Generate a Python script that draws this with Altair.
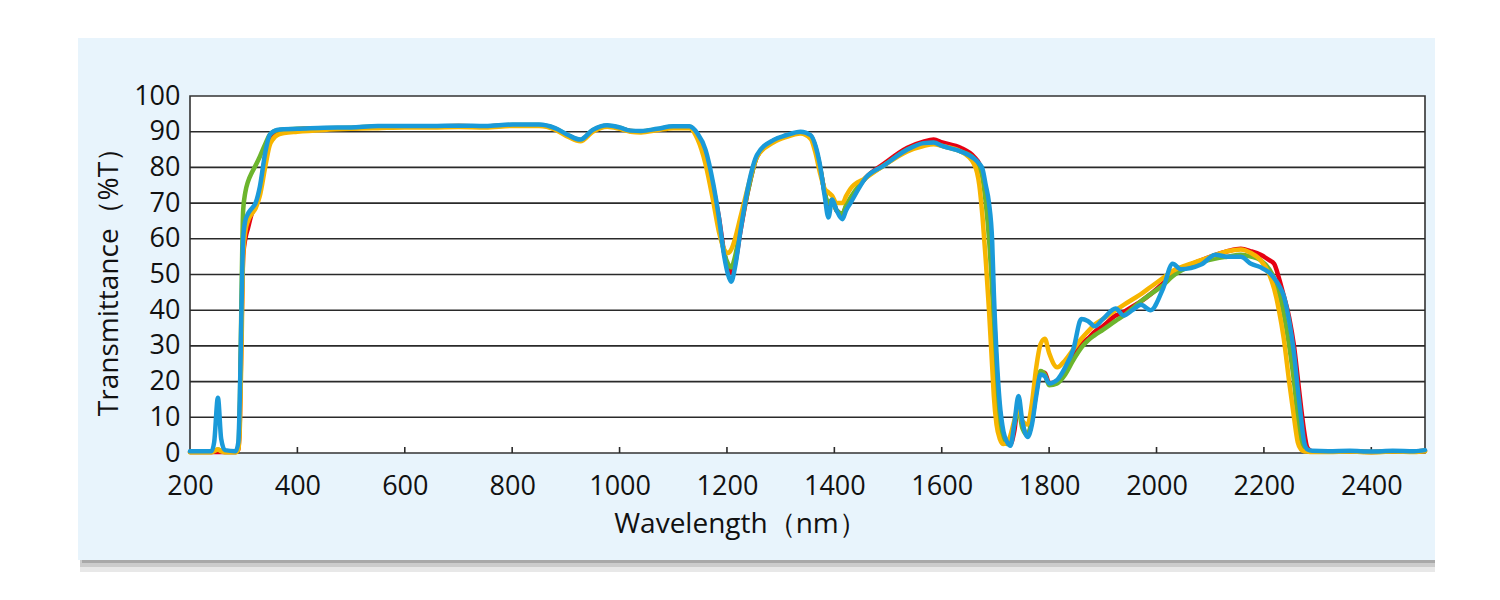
import altair as alt
import pandas as pd

# ---------------- data ----------------
wavelength = [200, 240, 245, 252, 258, 265, 285, 290, 293, 296, 299, 303, 308, 315, 322, 330, 340, 348, 355, 362,
              375, 400, 450, 500, 550, 600, 650, 700, 750, 800, 850, 880, 905, 927, 950, 977, 1000, 1020, 1040, 1070,
              1100, 1130, 1145, 1160, 1175, 1185, 1195, 1202, 1208, 1215, 1225, 1240, 1256, 1287, 1310, 1337, 1356, 1365, 1374, 1382,
              1389, 1396, 1404, 1415, 1422, 1430, 1458, 1492, 1536, 1566, 1585, 1601, 1635, 1660, 1670, 1676, 1682, 1688, 1694, 1697,
              1702, 1708, 1715, 1722, 1728, 1735, 1743, 1750, 1760, 1768, 1776, 1784, 1792, 1800, 1815, 1830, 1845, 1860, 1872, 1885,
              1900, 1924, 1939, 1955, 1971, 1989, 2012, 2030, 2045, 2083, 2110, 2132, 2157, 2176, 2194, 2210, 2219, 2228, 2237, 2247,
              2256, 2263, 2269, 2275, 2281, 2290, 2320, 2360, 2400, 2440, 2480, 2500]

blue = [0.5, 0.5, 3, 15.5, 4, 0.8, 0.5, 3, 17, 41, 60, 65, 67, 68.5, 70, 74.5, 84, 89, 90, 90.5,
        90.7, 90.8, 91.1, 91.2, 91.6, 91.6, 91.6, 91.7, 91.6, 92, 92, 91, 89, 87.8, 90.5, 91.8, 91.2, 90.3, 90.2, 90.8,
        91.5, 91.5, 89.5, 85, 75, 66, 55, 50, 48, 52, 62, 75, 83.5, 87.7, 89, 90, 89, 86, 80, 72,
        66, 71, 68, 65.5, 68, 70, 77, 80.5, 85, 86.8, 87, 86, 84.5, 82.5, 81, 79.5, 75, 70, 59, 45,
        28, 14, 6, 3, 2, 8, 16, 9, 4.5, 8, 16, 22, 21.5, 19.5, 20.5, 24, 29, 37.5, 37, 35.5,
        37.5, 40.5, 38.5, 40, 41.5, 40, 46, 53, 51.5, 52.8, 55.5, 55, 55, 53, 52, 50.5, 49, 47, 44, 37,
        28, 18, 10, 3, 1, 0.6, 0.5, 0.6, 0.4, 0.6, 0.5, 0.8]

red = [0.3, 0.3, 0.3, 0.3, 0.3, 0.3, 0.3, 1, 10, 35, 55, 60, 63, 67, 69, 73, 83, 88.5, 89.5, 90,
       90.5, 90.7, 91, 91, 91.4, 91.5, 91.5, 91.6, 91.5, 91.8, 91.8, 90.8, 88.8, 87.6, 90.3, 91.6, 91, 90.2, 90, 90.6,
       91.3, 91.3, 89, 84, 74, 66, 56, 52, 50.5, 53, 62, 74, 83, 87.5, 88.8, 89.8, 88.8, 85.5, 79.5, 73,
       69, 71, 68, 67, 69, 71, 77, 81, 85.5, 87.2, 87.8, 87, 85.5, 83, 81, 78.5, 73, 66, 52, 40,
       24, 12, 5, 3, 2.5, 6, 14, 8, 5, 9, 17, 22.5, 22.5, 19.5, 20, 23, 27, 30.5, 32, 34,
       35.5, 38.5, 39.5, 41, 42.5, 44.5, 47.5, 50, 51.5, 54, 55.5, 56.5, 57.2, 56.5, 55.5, 54, 53, 49, 44, 38,
       30, 21, 13, 6, 1.5, 0.5, 0.4, 0.5, 0.3, 0.5, 0.4, 0.6]

green = [0.3, 0.3, 0.6, 1, 0.6, 0.3, 0.3, 1.5, 15, 45, 68, 73, 76, 78.5, 80.5, 83, 86.5, 89, 90, 90.3,
         90.6, 90.8, 91, 91.1, 91.5, 91.5, 91.5, 91.6, 91.5, 91.9, 91.9, 90.9, 88.9, 87.7, 90.4, 91.7, 91.1, 90.2, 90.1, 90.7,
         91.4, 91.4, 89, 83, 72, 64, 56, 53, 52, 55, 63, 74, 83, 87.5, 88.8, 89.8, 88.8, 85.5, 79.5, 73,
         70, 71, 68, 67, 69.5, 71.5, 77, 80.5, 85, 86.6, 86.8, 86, 84.5, 82.5, 80, 77, 70, 60, 45, 35,
         20, 9, 4, 2.5, 3, 8, 12, 7, 5, 10, 18, 23, 22, 19, 19.5, 22, 26, 29.5, 31.5, 33,
         34.5, 37, 38.5, 40.5, 42.5, 44.5, 47, 49.5, 51, 53.5, 54.5, 55, 55.5, 55, 54, 51.5, 49, 45, 39, 30,
         20, 10, 4, 1, 0.5, 0.4, 0.4, 0.5, 0.3, 0.5, 0.4, 0.6]

yellow = [0.2, 0.2, 0.5, 1, 0.5, 0.2, 0.2, 1, 8, 30, 55, 62, 65, 67, 68.5, 72, 80, 86, 88, 89,
          89.6, 90, 90.5, 90.8, 91, 91.2, 91.2, 91.3, 91.2, 91.6, 91.6, 90.6, 88.5, 87.3, 90, 91.4, 90.8, 90, 89.8, 90.4,
          91, 91, 88, 81, 70, 62, 57, 56, 57, 60, 66, 75, 83, 87, 88.5, 89.5, 88, 84, 78, 74,
          73, 72, 70, 70, 72, 74, 77, 80.5, 84.5, 86, 86.5, 86, 84.5, 81, 75, 66, 54, 40, 24, 16,
          8, 4, 2.5, 3, 5, 9, 13, 9, 8, 14, 24, 30.5, 32, 28, 24, 26, 29, 32, 34, 36,
          37.5, 40, 41.5, 43, 44.5, 46.5, 49, 51, 52, 54, 55.5, 56.5, 57, 56, 54, 50, 46, 40, 32, 20,
          10, 3, 1, 0.5, 0.4, 0.3, 0.3, 0.4, 0.2, 0.4, 0.3, 0.5]

series_names = ["Red", "Green", "Yellow", "Blue"]
series_values = [red, green, yellow, blue]
series_colors = ["#e60012", "#6cb52d", "#f7b500", "#1a9ad9"]

grid_levels = [10, 20, 30, 40, 50, 60, 70, 80, 90]
x_tick_values = [200, 400, 600, 800, 1000, 1200, 1400, 1600, 1800, 2000, 2200, 2400]
y_tick_values = [0, 10, 20, 30, 40, 50, 60, 70, 80, 90, 100]

x_title = "Wavelength（nm）"
y_title = "Transmittance（%T）"

# ---------------- chart ----------------
W, H = 1235, 357
FONT = "Open Sans"
TXT = "#111111"

xscale = alt.Scale(domain=[200, 2500], nice=False, zero=False)
yscale = alt.Scale(domain=[0, 100], nice=False)

x_axis = alt.Axis(values=x_tick_values, format="d", grid=False, ticks=False, domain=False, zindex=2,
                  labelFlush=False, labelFontSize=27, labelFont=FONT, labelColor=TXT, labelPadding=20,
                  title=x_title, titleFontSize=28, titleFont=FONT, titleFontWeight="normal",
                  titleColor=TXT, titlePadding=11, titleX=550)
y_axis = alt.Axis(values=y_tick_values, format="d", grid=False, ticks=False, domain=False, zindex=2,
                  labelFlush=False, labelFontSize=27, labelFont=FONT, labelColor=TXT, labelPadding=10,
                  title=y_title, titleFontSize=28, titleFont=FONT, titleFontWeight="normal",
                  titleColor=TXT, titlePadding=10)

dummy = pd.DataFrame({"a": [0]})

shadow3 = alt.Chart(dummy).mark_rect(color="#e2e2e2", opacity=0.8).encode(
    x=alt.value(-110), x2=alt.value(1245), y=alt.value(458), y2=alt.value(476))
shadow2 = alt.Chart(dummy).mark_rect(color="#c4c4c4", opacity=0.8).encode(
    x=alt.value(-110), x2=alt.value(1245), y=alt.value(458), y2=alt.value(471))
shadow1 = alt.Chart(dummy).mark_rect(color="#a0a0a0", opacity=0.8).encode(
    x=alt.value(-108), x2=alt.value(1245), y=alt.value(458), y2=alt.value(467))
panel = alt.Chart(dummy).mark_rect(color="#e8f4fc").encode(
    x=alt.value(-112), x2=alt.value(1245), y=alt.value(-58), y2=alt.value(464))
plot_bg = alt.Chart(dummy).mark_rect(fill="white", stroke="#333333", strokeWidth=1.6).encode(
    x=alt.value(0), x2=alt.value(W), y=alt.value(0), y2=alt.value(H))

grid_df = pd.DataFrame({"level": grid_levels})
grid = alt.Chart(grid_df).mark_rule(color="#2a2a2a", strokeWidth=1.6).encode(
    y=alt.Y("level:Q", scale=yscale, axis=y_axis),
    x=alt.value(0), x2=alt.value(W))

tick_df = pd.DataFrame({"tick": x_tick_values[1:]})
ticks = alt.Chart(tick_df).mark_rule(color="#2a2a2a", strokeWidth=1.6).encode(
    x=alt.X("tick:Q", scale=xscale, axis=x_axis),
    y=alt.value(H), y2=alt.value(H - 6))

line_layers = []
for name, vals, col in zip(series_names, series_values, series_colors):
    df = pd.DataFrame({"wavelength": wavelength, "T": vals, "series": name})
    line_layers.append(
        alt.Chart(df).mark_line(color=col, strokeWidth=4.5, interpolate="monotone",
                                strokeJoin="round", strokeCap="round").encode(
            x=alt.X("wavelength:Q", scale=xscale, axis=x_axis),
            y=alt.Y("T:Q", scale=yscale, axis=y_axis))
    )

chart = alt.layer(shadow3, shadow2, shadow1, panel, plot_bg, grid, ticks, *line_layers).properties(
    width=W, height=H,
    padding={"left": 70, "top": 30, "right": 0, "bottom": 0},
    background="white",
).configure_view(strokeWidth=0)

chart.save("out.html", embed_options={"renderer": "svg", "actions": False})
